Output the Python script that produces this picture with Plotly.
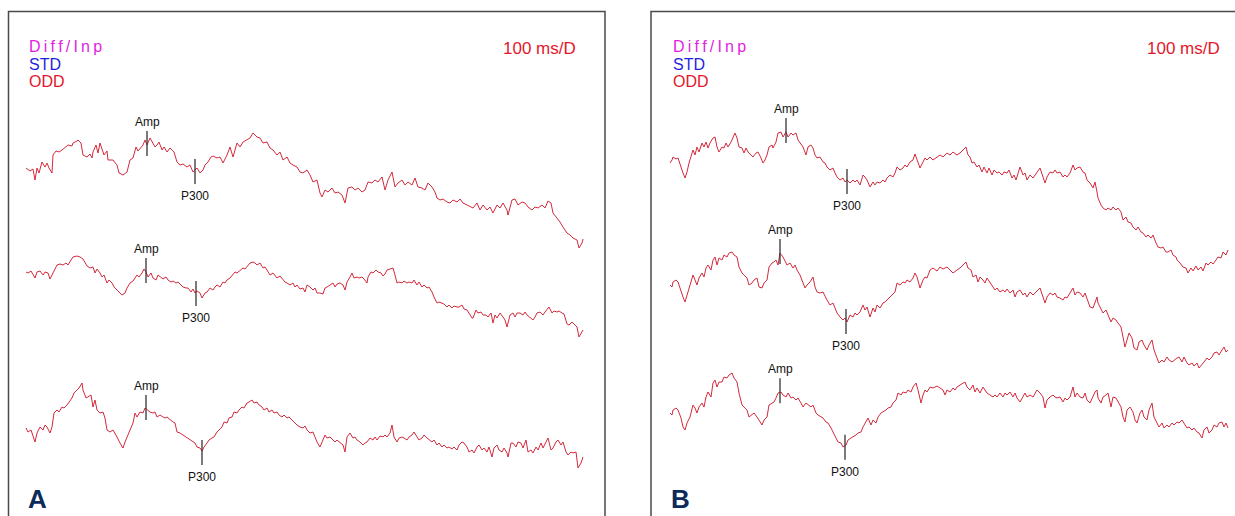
import numpy as np
import plotly.graph_objects as go

# ---------------- data -------------------------------------------------------------------------------------
# each trace: (sweep position, deflection) pairs; deflection axis is drawn negative-up (EP convention)
A1 = [(26,168),(30,171),(33,169),(35,180),(37,168),(39,173),(42,162),(45,167),(47,163),(49,168),(52,173),(53,155),
      (56,151),(59,152),(62,150),(65,147),(68,145),(72,146),(73,143),(77,141),(78,140),(81,143),(83,155),(87,157),
      (90,154),(92,158),(93,152),(96,145),(98,153),(100,143),(102,148),(104,155),(107,151),(108,160),(113,160),(117,165),
      (119,173),(123,175),(127,172),(130,160),(133,158),(136,147),(138,151),(141,148),(143,145),(145,140),(147,145),(150,138),
      (153,143),(155,147),(157,145),(159,142),(162,150),(164,147),(167,152),(170,148),(174,152),(177,162),(180,165),(183,164),
      (187,167),(190,165),(193,172),(197,168),(200,173),(203,170),(205,165),(208,162),(211,157),(213,156),(217,158),(220,157),
      (223,163),(227,155),(230,147),(233,157),(237,143),(240,147),(243,142),(247,140),(250,138),(253,133),(257,137),(260,138),
      (263,143),(267,142),(270,148),(273,150),(277,155),(280,152),(283,160),(287,157),(290,163),(293,165),(297,167),(300,172),
      (303,173),(307,170),(310,175),(313,182),(317,180),(320,193),(322,197),(325,190),(328,192),(332,188),(335,193),(338,192),
      (342,195),(345,203),(348,188),(352,187),(355,190),(358,188),(362,192),(365,190),(368,182),(372,183),(375,180),(378,182),
      (382,177),(385,190),(388,180),(392,172),(395,187),(398,183),(402,180),(405,185),(408,182),(412,185),(415,178),(418,187),
      (422,188),(425,190),(428,183),(432,187),(435,192),(437,198),(440,200),(443,199),(447,202),(450,203),(453,200),(457,202),
      (460,199),(463,203),(467,205),(470,207),(473,208),(477,203),(480,210),(483,205),(487,210),(490,207),(493,213),(497,205),
      (500,208),(503,203),(507,210),(508,215),(512,200),(515,199),(518,205),(522,202),(525,203),(528,207),(532,210),(535,207),
      (538,208),(542,205),(545,208),(548,201),(551,203),(553,213),(557,218),(560,222),(563,227),(567,233),(570,235),(573,238),
      (577,240),(579,248),(582,243),(583,239)]

A2 = [(26,272),(28,273),(31,271),(33,275),(35,278),(37,272),(40,271),(43,275),(45,272),(48,273),(50,279),(53,273),
      (55,268),(57,265),(60,264),(63,265),(66,263),(68,265),(71,260),(73,257),(77,256),(80,257),(83,259),(85,263),
      (87,266),(90,268),(93,267),(95,273),(97,269),(100,273),(102,277),(104,275),(107,283),(109,280),(112,283),(114,287),
      (117,290),(119,293),(122,295),(125,293),(127,288),(130,283),(133,281),(135,278),(137,275),(139,277),(142,273),(144,269),
      (146,272),(148,277),(151,273),(153,278),(156,280),(158,275),(161,278),(163,279),(166,277),(168,280),(171,282),(173,281),
      (176,283),(178,282),(181,285),(183,287),(186,288),(188,288),(191,292),(193,289),(195,293),(197,291),(200,293),(202,298),
      (205,293),(207,292),(210,288),(213,290),(215,287),(217,285),(220,287),(223,282),(225,283),(227,280),(230,278),(233,275),
      (235,272),(237,273),(240,270),(243,268),(245,269),(247,267),(250,263),(253,262),(255,263),(257,265),(260,263),(263,268),
      (265,267),(267,270),(270,275),(273,273),(275,275),(277,278),(280,276),(283,280),(285,282),(287,283),(290,285),(293,283),
      (295,287),(297,285),(300,289),(303,288),(305,292),(307,285),(310,287),(313,290),(315,288),(317,293),(320,293),(323,294),
      (325,288),(327,287),(330,285),(333,283),(335,287),(337,284),(340,283),(343,285),(345,290),(347,282),(350,277),(352,273),
      (354,278),(357,277),(359,278),(362,277),(364,279),(367,283),(368,277),(371,272),(373,273),(376,270),(378,272),(381,273),
      (383,276),(385,274),(387,270),(390,269),(393,268),(395,275),(397,283),(399,282),(402,283),(404,281),(407,283),(409,282),
      (412,283),(414,280),(417,285),(419,282),(422,287),(424,285),(427,288),(429,287),(432,292),(434,297),(437,303),(439,302),
      (442,303),(444,304),(447,307),(449,305),(452,308),(454,306),(457,307),(459,307),(462,305),(464,309),(467,310),(469,313),
      (472,318),(473,318),(476,310),(478,313),(481,312),(483,315),(486,315),(488,317),(491,313),(493,323),(495,315),(497,318),
      (500,313),(503,317),(505,320),(507,327),(510,315),(513,313),(515,317),(517,313),(520,313),(523,315),(525,312),(527,315),
      (530,318),(533,320),(535,317),(537,313),(540,312),(543,315),(545,312),(547,310),(549,307),(552,313),(554,311),(557,312),
      (559,311),(562,313),(564,314),(567,324),(569,325),(572,322),(574,324),(577,327),(579,337),(582,332),(583,330)]

A3 = [(26,428),(28,432),(31,430),(33,435),(35,442),(37,433),(40,427),(43,430),(45,425),(47,427),(50,433),(52,427),
      (54,413),(57,410),(59,412),(62,407),(64,408),(67,405),(69,402),(72,398),(74,393),(77,390),(79,388),(82,383),
      (83,390),(86,398),(88,397),(91,395),(93,407),(95,400),(97,410),(100,413),(103,412),(105,418),(107,430),(110,432),
      (113,430),(115,433),(117,437),(120,443),(123,448),(125,442),(127,437),(130,430),(133,423),(135,413),(137,417),(140,412),
      (143,413),(145,408),(147,410),(150,412),(153,413),(155,412),(157,417),(160,415),(163,417),(165,418),(167,417),(170,420),
      (173,422),(175,423),(177,432),(180,433),(183,435),(185,437),(187,438),(190,440),(193,442),(195,443),(197,447),(200,448),
      (202,451),(204,447),(207,443),(209,440),(212,438),(214,437),(217,432),(219,430),(222,427),(224,422),(227,423),(229,418),
      (232,417),(234,412),(237,413),(239,410),(242,407),(244,408),(247,403),(249,402),(252,400),(254,403),(257,402),(259,405),
      (262,407),(264,410),(267,408),(269,412),(272,410),(274,413),(277,412),(279,415),(282,417),(284,415),(287,418),(289,417),
      (292,420),(294,423),(297,425),(300,427),(303,428),(305,426),(307,430),(310,433),(313,432),(315,437),(317,442),(320,447),
      (323,440),(325,435),(327,438),(330,437),(333,440),(335,442),(337,440),(340,443),(343,445),(345,452),(347,437),(350,433),
      (353,438),(355,437),(357,440),(360,442),(363,445),(365,443),(367,442),(370,438),(373,440),(375,437),(377,440),(380,436),
      (383,437),(385,435),(387,437),(390,433),(392,425),(394,437),(397,442),(399,438),(402,437),(404,438),(407,440),(409,437),
      (412,435),(414,432),(417,437),(419,440),(422,438),(424,435),(427,438),(429,440),(432,442),(434,440),(437,445),(439,443),
      (442,447),(444,445),(447,448),(449,447),(452,449),(454,447),(457,450),(459,445),(462,442),(464,443),(467,447),(469,452),
      (472,450),(474,453),(477,447),(479,445),(482,450),(484,448),(487,452),(489,447),(492,457),(494,448),(497,445),(499,450),
      (502,452),(504,448),(507,453),(508,457),(511,443),(513,443),(516,447),(518,442),(521,443),(523,448),(526,440),(528,452),
      (531,450),(533,453),(536,447),(538,450),(541,443),(543,448),(546,442),(548,438),(551,450),(553,448),(556,442),(558,440),
      (561,445),(563,442),(566,452),(568,455),(571,452),(573,453),(576,452),(578,468),(581,463),(583,457)]

B1 = [(670,163),(672,160),(673,157),(676,159),(678,158),(681,168),(683,173),(685,178),(687,172),(689,163),(692,152),(693,150),
      (695,155),(697,147),(699,152),(702,143),(704,147),(706,142),(708,148),(710,143),(713,138),(715,137),(717,147),(719,152),
      (722,147),(724,148),(726,143),(728,147),(731,142),(733,137),(735,133),(737,138),(739,147),(742,148),(744,153),(746,148),
      (748,152),(751,155),(753,157),(756,153),(758,152),(761,158),(763,163),(765,160),(767,155),(769,147),(772,145),(773,148),
      (776,142),(778,133),(781,132),(783,137),(786,132),(788,137),(791,133),(793,135),(796,133),(798,140),(801,145),(803,147),
      (806,155),(808,147),(811,145),(813,148),(815,155),(817,158),(820,157),(823,162),(825,163),(827,167),(830,170),(833,168),
      (835,173),(837,177),(840,180),(843,178),(845,182),(847,180),(850,183),(853,180),(855,182),(857,180),(860,185),(863,175),
      (865,177),(867,180),(870,187),(873,182),(875,185),(877,182),(880,183),(883,180),(885,182),(887,178),(890,175),(893,177),
      (895,173),(897,167),(900,170),(903,168),(905,165),(907,167),(910,162),(913,160),(915,154),(917,160),(920,168),(923,162),
      (925,158),(927,160),(930,157),(933,160),(937,157),(940,155),(943,157),(947,153),(950,155),(953,152),(957,155),(960,153),
      (963,150),(966,147),(968,155),(970,157),(972,163),(974,162),(977,167),(979,165),(982,172),(984,167),(987,173),(989,168),
      (992,175),(994,170),(997,173),(999,172),(1002,175),(1004,172),(1007,173),(1009,170),(1012,178),(1014,175),(1016,180),
      (1018,172),(1020,167),(1023,175),(1025,173),(1027,180),(1030,175),(1033,178),(1035,175),(1037,173),(1040,168),(1043,177),
      (1045,183),(1047,177),(1050,172),(1053,173),(1055,170),(1057,173),(1060,172),(1063,177),(1065,175),(1067,177),(1070,173),
      (1073,165),(1075,170),(1077,168),(1080,167),(1083,172),(1085,173),(1087,180),(1090,183),(1093,188),(1095,182),(1097,192),
      (1098,198),(1101,205),(1103,208),(1106,210),(1108,208),(1111,210),(1113,207),(1116,210),(1118,208),(1121,212),(1123,220),
      (1126,217),(1128,222),(1131,223),(1133,227),(1136,230),(1138,227),(1141,232),(1143,233),(1146,237),(1148,235),(1151,238),
      (1153,235),(1156,243),(1158,247),(1161,248),(1163,247),(1166,252),(1168,252),(1171,250),(1173,255),(1176,257),(1177,260),
      (1180,263),(1183,267),(1186,268),(1188,273),(1191,268),(1193,271),(1196,266),(1198,270),(1201,267),(1203,271),(1206,263),
      (1208,265),(1211,262),(1213,264),(1216,260),(1218,257),(1221,258),(1223,252),(1226,255),(1228,250)]

B2 = [(670,285),(672,287),(673,282),(676,280),(678,282),(681,292),(683,297),(685,302),(687,295),(690,283),(693,275),(695,280),
      (697,285),(699,278),(702,273),(704,277),(706,268),(708,265),(711,270),(713,260),(715,257),(717,265),(719,258),(722,260),
      (724,255),(727,257),(729,253),(732,252),(734,255),(737,257),(739,267),(742,273),(744,275),(747,278),(749,285),(752,283),
      (754,280),(757,278),(759,287),(762,288),(764,283),(767,280),(769,267),(772,263),(774,262),(776,260),(778,265),(780,253),
      (783,257),(785,262),(787,265),(790,263),(793,268),(795,265),(797,270),(800,275),(803,283),(805,288),(807,285),(810,282),
      (813,277),(815,287),(817,292),(820,293),(823,292),(825,297),(827,300),(830,305),(833,303),(835,308),(837,313),(840,317),
      (843,320),(845,318),(847,322),(850,315),(853,317),(855,313),(857,315),(860,312),(863,305),(865,310),(867,307),(870,317),
      (873,308),(875,312),(877,305),(880,308),(883,303),(885,302),(887,300),(890,298),(893,295),(895,292),(897,283),(900,285),
      (903,282),(905,283),(907,280),(910,282),(913,278),(915,273),(917,277),(920,288),(923,280),(925,277),(927,278),(930,270),
      (933,268),(937,271),(940,267),(943,269),(947,267),(950,270),(953,273),(957,270),(960,268),(963,265),(966,262),(968,268),
      (971,270),(973,277),(976,275),(978,282),(980,277),(983,280),(985,283),(987,278),(990,283),(993,288),(995,290),(997,288),
      (1000,292),(1003,290),(1005,292),(1007,289),(1010,293),(1013,290),(1015,297),(1017,292),(1020,290),(1023,295),(1025,293),
      (1027,297),(1030,292),(1033,295),(1035,293),(1037,290),(1040,288),(1043,297),(1045,303),(1047,297),(1050,293),(1053,295),
      (1055,293),(1057,297),(1060,298),(1063,300),(1065,297),(1067,298),(1070,293),(1073,288),(1075,295),(1077,292),(1080,293),
      (1083,297),(1085,293),(1087,298),(1090,307),(1093,308),(1095,302),(1097,297),(1098,303),(1101,310),(1103,313),(1106,310),
      (1108,315),(1111,322),(1113,318),(1116,320),(1118,323),(1121,327),(1123,337),(1125,347),(1127,340),(1129,333),(1132,338),
      (1134,348),(1137,350),(1139,342),(1142,340),(1144,345),(1147,350),(1149,345),(1152,340),(1154,350),(1157,358),(1159,363),
      (1162,360),(1164,362),(1167,357),(1169,360),(1172,362),(1174,360),(1177,358),(1179,357),(1182,362),(1184,357),(1187,363),
      (1189,365),(1192,363),(1194,366),(1197,363),(1199,368),(1202,365),(1204,362),(1207,358),(1209,360),(1212,357),(1214,353),
      (1217,352),(1219,355),(1222,350),(1224,347),(1226,352),(1228,350)]

B3 = [(670,413),(672,415),(673,410),(676,408),(678,410),(681,418),(683,427),(685,430),(687,423),(690,417),(693,405),(695,408),
      (697,413),(699,407),(702,403),(704,407),(706,397),(708,392),(711,397),(713,383),(715,380),(717,387),(719,382),(722,382),
      (724,377),(727,378),(729,375),(732,373),(734,378),(737,382),(739,393),(742,405),(744,407),(747,410),(749,417),(752,415),
      (754,413),(757,417),(759,420),(762,425),(764,420),(767,417),(769,405),(772,403),(774,402),(776,398),(778,393),(781,392),
      (783,395),(786,397),(788,393),(791,398),(793,397),(796,400),(798,398),(801,403),(803,407),(806,403),(808,405),(811,407),
      (813,405),(816,413),(818,415),(821,417),(823,418),(826,422),(828,423),(831,428),(833,432),(836,437),(838,442),(841,443),
      (843,447),(846,445),(848,440),(851,438),(853,437),(856,435),(858,433),(861,432),(863,427),(866,422),(868,418),(871,425),
      (873,420),(876,423),(878,417),(881,413),(883,412),(886,410),(888,408),(891,407),(893,403),(896,400),(898,393),(901,395),
      (903,392),(906,393),(908,390),(911,392),(913,387),(916,383),(918,390),(921,403),(923,395),(925,390),(927,392),(930,387),
      (933,388),(937,386),(940,388),(943,390),(945,395),(947,390),(950,392),(953,388),(955,390),(957,387),(960,385),(963,383),
      (965,382),(967,387),(970,390),(973,385),(975,392),(977,388),(980,393),(983,387),(985,390),(987,393),(990,395),(993,397),
      (995,395),(997,397),(1000,393),(1003,397),(1005,393),(1007,395),(1010,392),(1013,397),(1015,393),(1017,398),(1020,402),
      (1023,397),(1025,393),(1027,397),(1030,395),(1033,397),(1035,393),(1037,390),(1040,393),(1043,397),(1045,408),(1047,400),
      (1050,397),(1053,395),(1055,397),(1057,398),(1060,397),(1063,402),(1065,398),(1067,400),(1070,397),(1073,387),(1075,397),
      (1077,393),(1080,397),(1083,398),(1085,393),(1087,400),(1090,403),(1093,397),(1095,392),(1097,390),(1098,398),(1101,403),
      (1103,397),(1106,395),(1108,393),(1111,407),(1113,397),(1116,398),(1118,402),(1121,407),(1123,417),(1125,422),(1127,410),
      (1130,407),(1133,412),(1135,420),(1137,423),(1140,413),(1142,410),(1144,417),(1147,420),(1149,410),(1152,403),(1154,417),
      (1157,423),(1159,427),(1162,423),(1164,428),(1167,425),(1169,427),(1172,423),(1174,425),(1177,422),(1179,423),(1182,420),
      (1184,423),(1187,428),(1189,427),(1192,430),(1194,428),(1197,432),(1199,433),(1202,438),(1204,430),(1207,427),(1209,433),
      (1212,430),(1214,425),(1217,427),(1219,423),(1222,422),(1224,427),(1226,423),(1228,428)]

# marker latencies (same units as sweep position)
amp_lat = {"A1": 147, "A2": 146, "A3": 146, "B1": 786, "B2": 780, "B3": 780}
p300_lat = {"A1": 195, "A2": 196, "A3": 202, "B1": 847, "B2": 846, "B3": 845}

legend_labels = ["Diff/Inp", "STD", "ODD"]
legend_colors = ["#e21ee2", "#1f1fe0", "#e3172b"]
scale_label = "100 ms/D"
panel_labels = ["A", "B"]

traces = {"A1": A1, "A2": A2, "A3": A3, "B1": B1, "B2": B2, "B3": B3}

# ---------------- figure ----------------
W, H = 1235, 516
fig = go.Figure()

TRACE_COLOR = "#d42a3c"
series = {}
for name, pts in traces.items():
    xs = [p[0] for p in pts]
    ys = [p[1] for p in pts]
    series[name] = (xs, ys)
    fig.add_trace(go.Scatter(x=xs, y=ys, mode="lines",
                             line=dict(color=TRACE_COLOR, width=1), hoverinfo="skip", showlegend=False))

annotations = []
MARK_COLOR = "#333333"
SANS = "Liberation Sans, Arial, sans-serif"
for name, (xs, ys) in series.items():
    ax = amp_lat[name]
    ay = float(np.interp(ax, xs, ys))
    fig.add_trace(go.Scatter(x=[ax, ax], y=[ay - 14, ay + 11], mode="lines",
                             line=dict(color=MARK_COLOR, width=1.3), hoverinfo="skip", showlegend=False))
    annotations.append(dict(x=ax, y=ay - 23, text="Amp", showarrow=False, xref="x", yref="y",
                            font=dict(family=SANS, size=12, color="#111111")))
    px = p300_lat[name]
    py = float(np.interp(px, xs, ys))
    fig.add_trace(go.Scatter(x=[px, px], y=[py - 11, py + 14], mode="lines",
                             line=dict(color=MARK_COLOR, width=1.3), hoverinfo="skip", showlegend=False))
    annotations.append(dict(x=px, y=py + 26, text="P300", showarrow=False, xref="x", yref="y",
                            font=dict(family=SANS, size=12, color="#111111")))

# panel texts
panel_left = [27, 671]
panel_right = [578, 1222]
legend_y = [46, 64, 81]
for i in range(2):
    for j, (lab, col) in enumerate(zip(legend_labels, legend_colors)):
        txt = "\u2009".join(lab) if j == 0 else lab
        annotations.append(dict(x=panel_left[i], y=legend_y[j], text=txt, showarrow=False, xref="x", yref="y",
                                xanchor="left", yanchor="middle",
                                font=dict(family=SANS, size=16, color=col)))
    annotations.append(dict(x=panel_right[i], y=48, text=scale_label, showarrow=False, xref="x", yref="y",
                            xanchor="right", yanchor="middle",
                            font=dict(family=SANS, size=17, color="#e3172b")))
    annotations.append(dict(x=[26, 669][i], y=499, text="<b>%s</b>" % panel_labels[i], showarrow=False,
                            xref="x", yref="y", xanchor="left", yanchor="middle",
                            font=dict(family=SANS, size=26, color="#0c2b5a")))

shapes = [
    dict(type="rect", xref="x", yref="y", x0=8.5, x1=605, y0=11.5, y1=530,
         line=dict(color="#4a4a4a", width=1.5)),
    dict(type="rect", xref="x", yref="y", x0=651, x1=1250, y0=11.5, y1=530,
         line=dict(color="#4a4a4a", width=1.5)),
]

fig.update_layout(
    width=W, height=H, autosize=False,
    margin=dict(l=0, r=0, t=0, b=0),
    paper_bgcolor="white", plot_bgcolor="white",
    xaxis=dict(range=[0, W], visible=False, showgrid=False, zeroline=False, fixedrange=True),
    yaxis=dict(range=[H, 0], visible=False, showgrid=False, zeroline=False, fixedrange=True),
    annotations=annotations, shapes=shapes, showlegend=False,
)

fig.write_html("out.html", config={"displayModeBar": False, "staticPlot": True},
               post_script="document.body.style.margin='0';document.body.style.overflow='hidden';")
